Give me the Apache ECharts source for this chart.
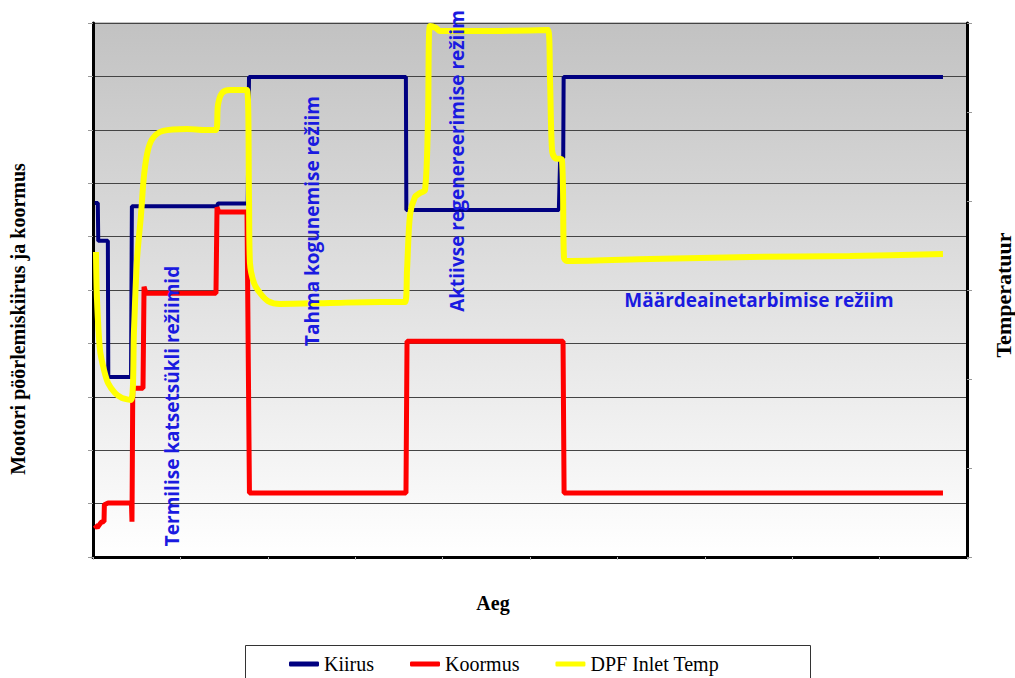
<!DOCTYPE html>
<html><head><meta charset="utf-8">
<script src="https://cdn.jsdelivr.net/npm/echarts@6/dist/echarts.min.js"></script>
<style>html,body{margin:0;padding:0;background:#fff}#c{width:1015px;height:678px}</style>
</head><body><div id="c"></div>
<script>
// Time (0-100 axis units)
var kiirusT = [0.2, 0.55, 0.6, 1.7, 1.75, 4.15, 4.35, 4.45, 14.2, 14.3, 17.7, 17.85, 35.8, 35.85, 53.3, 53.45, 53.8, 53.85, 97.25];
var kiirusV = [6.63, 6.63, 5.92, 5.92, 3.37, 3.37, 3.37, 6.57, 6.57, 6.62, 6.62, 8.99, 8.99, 6.50, 6.50, 7.47, 7.47, 8.99, 8.99];

var koormusT = [0.2, 0.5, 0.8, 1.0, 1.26, 1.3, 1.72, 4.4, 4.46, 4.55, 5.72, 5.84, 6.06, 14.07, 14.19, 14.4, 17.62, 17.9, 35.81, 35.93, 53.78, 53.9, 97.25];
var koormusV = [0.60, 0.55, 0.62, 0.66, 0.66, 0.98, 1.01, 1.01, 0.66, 3.16, 3.16, 5.06, 4.94, 4.94, 6.55, 6.46, 6.46, 1.20, 1.20, 4.04, 4.04, 1.20, 1.20];

var dpfT = [0.34, 0.46, 0.8, 1.26, 1.72, 2.52, 3.32, 4.35, 4.69, 5.03, 5.49, 5.84, 6.29, 6.86, 8.01, 10.76, 12.81, 14.07, 14.30, 14.76, 15.68, 17.62, 17.85, 17.96, 18.42, 19.11, 20.02, 21.40, 27.12, 32.84, 35.70, 35.93, 36.27, 36.84, 37.41, 37.99, 38.33, 38.56, 39.24, 39.70, 44.28, 52.06, 52.29, 52.52, 52.86, 53.66, 53.89, 54.23, 63.73, 75.17, 86.61, 97.25];
var dpfV = [342.7, 288.8, 232.6, 210.1, 195.5, 184.3, 178.7, 176.4, 255.1, 333.7, 384.3, 429.2, 457.3, 470.8, 478.7, 480.9, 479.8, 479.8, 507.9, 521.3, 524.7, 524.7, 401.1, 330.3, 307.9, 296.6, 287.6, 284.3, 285.4, 286.5, 286.5, 322.5, 384.3, 404.5, 409.0, 412.4, 491.0, 596.6, 594.4, 591.0, 591.0, 592.1, 536.0, 457.3, 448.3, 446.1, 336.0, 332.6, 334.8, 337.1, 338.2, 340.4];

var seriesNames = ['Kiirus', 'Koormus', 'DPF Inlet Temp'];
var leftTitle = 'Mootori pöörlemiskiirus ja koormus';
var rightTitle = 'Temperatuur';
var xTitle = 'Aeg';
var notes = ['Termilise katsetsükli režiimid', 'Tahma kogunemise režiim', 'Aktiivse regenereerimise režiim', 'Määrdeainetarbimise režiim'];

function zip(t, v) { return t.map(function (x, i) { return [x, v[i]]; }); }

var chart = echarts.init(document.getElementById('c'), null, { renderer: 'svg' });
var serif = 'Liberation Serif';
var noteFont = 'bold 19px "Open Sans"';
var noteColor = '#1a1ae0';

chart.setOption({
  animation: false,
  grid: {
    left: 93, right: 48, top: 23, bottom: 121,
    show: true, borderColor: '#888', borderWidth: 1,
    backgroundColor: { type: 'linear', x: 0, y: 0, x2: 0, y2: 1,
      colorStops: [{ offset: 0, color: '#c2c2c2' }, { offset: 1, color: '#ffffff' }] }
  },
  xAxis: {
    type: 'value', min: 0, max: 100, interval: 10,
    axisLine: { lineStyle: { color: '#000', width: 3 } },
    axisTick: { show: true, length: 3, lineStyle: { color: '#bbb' } },
    axisLabel: { show: false }, splitLine: { show: false }
  },
  yAxis: [{
    type: 'value', min: 0, max: 10, interval: 1, position: 'left',
    axisLine: { show: true, lineStyle: { color: '#000', width: 3 } },
    axisTick: { show: true, length: 5, lineStyle: { color: '#999' } },
    axisLabel: { show: false },
    splitLine: { show: true, lineStyle: { color: '#444', width: 1 } }
  }, {
    type: 'value', min: 0, max: 600, interval: 100, position: 'right',
    axisLine: { show: true, lineStyle: { color: '#000', width: 3 } },
    axisTick: { show: true, length: 5, lineStyle: { color: '#999' } },
    axisLabel: { show: false }, splitLine: { show: false }
  }],
  legend: {
    left: 284, top: 649, itemGap: 36, itemWidth: 30, itemHeight: 5,
    icon: 'roundRect',
    textStyle: { fontFamily: serif, fontSize: 20, color: '#000' },
    data: seriesNames
  },
  series: [
    { name: seriesNames[0], type: 'line', yAxisIndex: 0, data: zip(kiirusT, kiirusV), showSymbol: false,
      lineStyle: { color: '#000080', width: 4 }, itemStyle: { color: '#000080' } },
    { name: seriesNames[1], type: 'line', yAxisIndex: 0, data: zip(koormusT, koormusV), showSymbol: false,
      lineStyle: { color: '#ff0000', width: 5 }, itemStyle: { color: '#ff0000' } },
    { name: seriesNames[2], type: 'line', yAxisIndex: 1, data: zip(dpfT, dpfV), showSymbol: false, smooth: 0.3,
      lineStyle: { color: '#ffff00', width: 6 }, itemStyle: { color: '#ffff00' } }
  ],
  graphic: [
    { type: 'rect', shape: { x: 245.5, y: 645.5, width: 565, height: 60 }, style: { fill: 'none', stroke: '#333', lineWidth: 1 }, z: -1 },
    { type: 'text', x: 18, y: 319, rotation: Math.PI / 2,
      style: { text: leftTitle, font: 'bold 20px "Liberation Serif"', fill: '#000', align: 'center', verticalAlign: 'middle' } },
    { type: 'text', x: 1003, y: 295, rotation: Math.PI / 2,
      style: { text: rightTitle, font: 'bold 22px "Liberation Serif"', fill: '#000', align: 'center', verticalAlign: 'middle' } },
    { type: 'text', x: 493, y: 603,
      style: { text: xTitle, font: 'bold 20px "Liberation Serif"', fill: '#000', align: 'center', verticalAlign: 'middle' } },
    { type: 'text', x: 172, y: 406, rotation: Math.PI / 2, z: 100,
      style: { text: notes[0], font: noteFont, fill: noteColor, align: 'center', verticalAlign: 'middle' } },
    { type: 'text', x: 312, y: 221, rotation: Math.PI / 2, z: 100,
      style: { text: notes[1], font: noteFont, fill: noteColor, align: 'center', verticalAlign: 'middle' } },
    { type: 'text', x: 457, y: 161, rotation: Math.PI / 2, z: 100,
      style: { text: notes[2], font: noteFont, fill: noteColor, align: 'center', verticalAlign: 'middle' } },
    { type: 'text', x: 759, y: 300, z: 100,
      style: { text: notes[3], font: noteFont, fill: noteColor, align: 'center', verticalAlign: 'middle' } }
  ]
});
</script></body></html>
